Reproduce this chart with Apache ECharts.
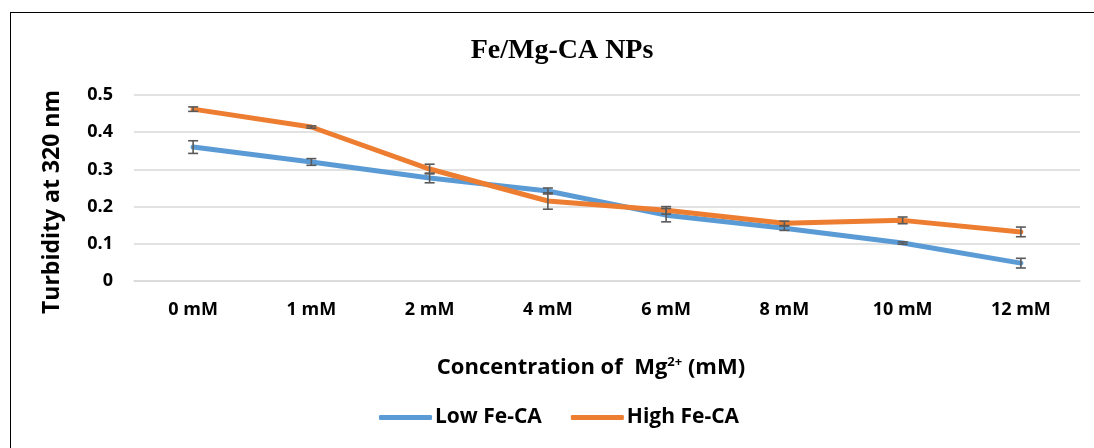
<!DOCTYPE html>
<html>
<head>
<meta charset="utf-8">
<script src="https://cdn.jsdelivr.net/npm/echarts@6/dist/echarts.min.js"></script>
<style>
html,body{margin:0;padding:0;background:#fff;}
#frame{position:absolute;left:10px;top:12px;width:1200px;height:600px;border:1px solid #000;box-sizing:border-box;}
#chart{position:absolute;left:0;top:0;width:1094px;height:448px;}
</style>
</head>
<body>
<div id="frame"></div>
<div id="chart"></div>
<script>
const categories = ['0 mM','1 mM','2 mM','4 mM','6 mM','8 mM','10 mM','12 mM'];
const lowValues = [0.360, 0.320, 0.277, 0.242, 0.177, 0.142, 0.102, 0.048];
const lowErrors = [0.017, 0.009, 0.013, 0.008, 0.018, 0.006, 0.003, 0.013];
const highValues = [0.462, 0.414, 0.301, 0.215, 0.190, 0.155, 0.163, 0.132];
const highErrors = [0.006, 0.003, 0.013, 0.022, 0.010, 0.006, 0.009, 0.013];
const yTicks = [0, 0.1, 0.2, 0.3, 0.4, 0.5];

const font = '"Open Sans", Lato, sans-serif';
const chart = echarts.init(document.getElementById('chart'), null, {renderer:'canvas'});

function errorSeries(values, errors, z){
  return {
    type: 'custom',
    z: z,
    silent: true,
    data: values.map((v,i)=>[i, v - errors[i], v + errors[i]]),
    renderItem: function(params, api){
      const x = api.value(0);
      const lo = api.coord([x, api.value(1)]);
      const hi = api.coord([x, api.value(2)]);
      const w = 5;
      const st = {stroke:'#595959', lineWidth:1.6};
      return {type:'group', children:[
        {type:'line', shape:{x1:lo[0],y1:lo[1],x2:hi[0],y2:hi[1]}, style:st},
        {type:'line', shape:{x1:lo[0]-w,y1:lo[1],x2:lo[0]+w,y2:lo[1]}, style:st},
        {type:'line', shape:{x1:hi[0]-w,y1:hi[1],x2:hi[0]+w,y2:hi[1]}, style:st}
      ]};
    }
  };
}

chart.setOption({
  animation:false,
  backgroundColor:'transparent',
  title:{
    text:'Fe/Mg-CA NPs',
    left:557, top:32, textAlign:'center',
    textStyle:{fontFamily:'"Liberation Serif", "Times New Roman", serif', fontWeight:'bold', fontSize:28, color:'#000'}
  },
  legend:{
    left:374, top:402,
    itemWidth:53, itemHeight:5, itemGap:29,
    icon:'roundRect',
    textStyle:{fontFamily:font, fontWeight:'bold', fontSize:21, color:'#000', padding:[0,0,0,-2]},
    data:['Low Fe-CA','High Fe-CA']
  },
  grid:{left:134, right:14, top:95, bottom:167, containLabel:false},
  xAxis:{
    type:'category',
    data:categories,
    boundaryGap:true,
    axisLine:{show:true, lineStyle:{color:'#d9d9d9', width:1.5}},
    axisTick:{show:false},
    axisLabel:{fontFamily:font, fontWeight:'bold', fontSize:18, color:'#000', margin:20},
    name:'{a|Concentration of  Mg}{s|2+}{a| (mM)}',
    nameLocation:'middle',
    nameGap:75,
    nameTextStyle:{
      padding:[0,32,0,0],
      rich:{
        a:{fontFamily:font, fontWeight:'bold', fontSize:22, color:'#000'},
        s:{fontFamily:font, fontWeight:'bold', fontSize:13, color:'#000', verticalAlign:'top', padding:[0,0,10,0]}
      }
    }
  },
  yAxis:{
    type:'value',
    min:0, max:0.5, interval:0.1,
    axisLine:{show:false},
    axisTick:{show:false},
    splitLine:{lineStyle:{color:'#d9d9d9', width:1.5}},
    axisLabel:{fontFamily:font, fontWeight:'bold', fontSize:18, color:'#000', margin:21,
      formatter:function(v){ return yTicks.includes(Math.round(v*10)/10) ? String(Math.round(v*10)/10) : ''; }},
    name:'Turbidity at 320 nm',
    nameLocation:'middle',
    nameGap:70,
    nameTextStyle:{fontFamily:font, fontWeight:'bold', fontSize:23, color:'#000', padding:[0,28,0,0]}
  },
  series:[
    {name:'Low Fe-CA', type:'line', data:lowValues, symbol:'none', z:3,
      lineStyle:{color:'#5B9BD5', width:5, cap:'round', join:'round'}, itemStyle:{color:'#5B9BD5'}},
    {name:'High Fe-CA', type:'line', data:highValues, symbol:'none', z:4,
      lineStyle:{color:'#ED7D31', width:5, cap:'round', join:'round'}, itemStyle:{color:'#ED7D31'}},
    errorSeries(lowValues, lowErrors, 5),
    errorSeries(highValues, highErrors, 6)
  ]
});
</script>
</body>
</html>
